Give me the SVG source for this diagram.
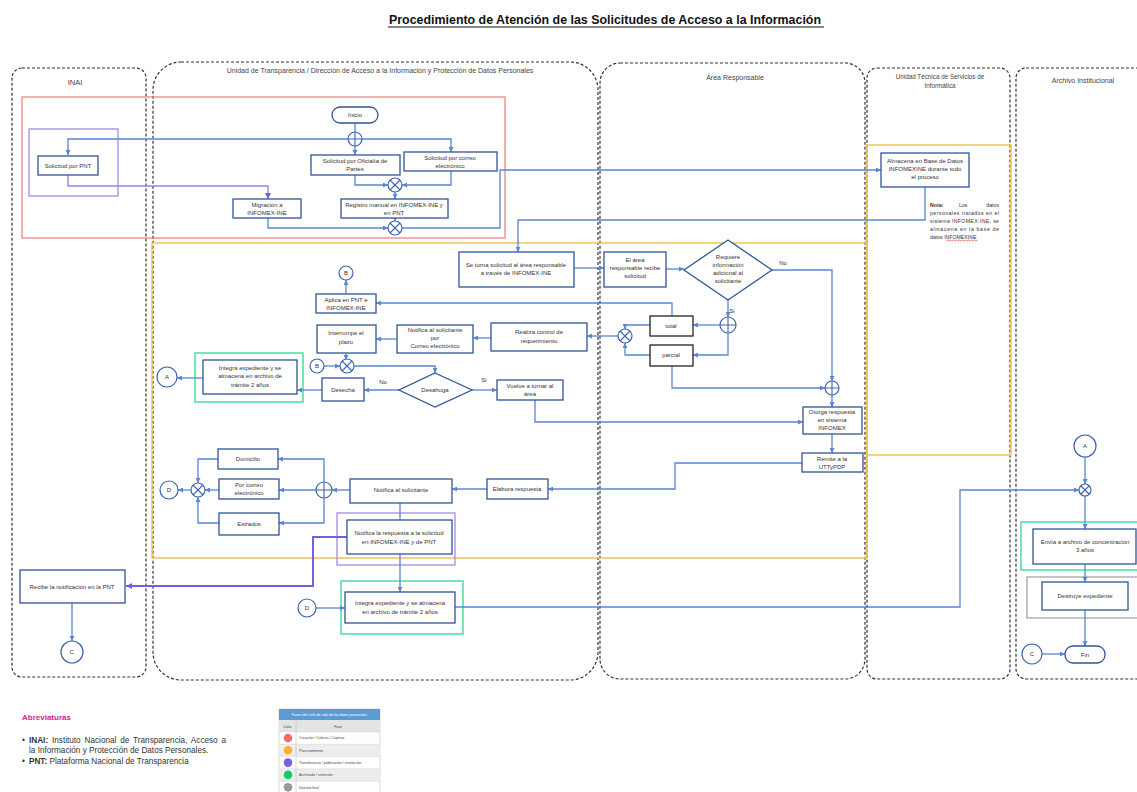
<svg xmlns="http://www.w3.org/2000/svg" width="1137" height="792" viewBox="0 0 1137 792">
<style>
.lane{fill:none;stroke:#333;stroke-width:1.2;stroke-dasharray:3 2}
.box{fill:#fff;stroke:#2F5597;stroke-width:1.3}
.bk{fill:#fff;stroke:#222;stroke-width:1.3}
.t{font-family:"Liberation Sans",Arial,sans-serif;font-size:6px;fill:#333;text-anchor:middle}
.lt{font-family:"Liberation Sans",Arial,sans-serif;font-size:7px;fill:#444;text-anchor:middle}
.c{fill:none;stroke:#5A86D1;stroke-width:1.3}
.cp{fill:none;stroke:#7B5CE0;stroke-width:2}
.gw{fill:#fff;stroke:#3D64B0;stroke-width:1.2}
.gl{stroke:#3D64B0;stroke-width:1.1}
.red{fill:none;stroke:#F07A7A;stroke-width:1.2}
.pur{fill:none;stroke:#A08CE8;stroke-width:1.3}
.grn{fill:none;stroke:#3EDC97;stroke-width:1.4}
.gry{fill:none;stroke:#A6A6A6;stroke-width:1.3}
.yel{fill:none;stroke:#EFC35A;stroke-width:1.5}
.lg{font-family:"Liberation Sans",Arial,sans-serif;font-size:8.2px;fill:#333}
.tb{font-family:"Liberation Sans",Arial,sans-serif;font-size:3.6px;fill:#444}
</style>
<defs>
<marker id="ar" viewBox="0 0 6 6" refX="6" refY="3" markerWidth="5" markerHeight="5" markerUnits="userSpaceOnUse" orient="auto"><path d="M0,0 L6,3 L0,6 z" fill="#5A86D1"/></marker>
<marker id="ap" viewBox="0 0 6 6" refX="6" refY="3" markerWidth="6" markerHeight="6" markerUnits="userSpaceOnUse" orient="auto"><path d="M0,0 L6,3 L0,6 z" fill="#7B5CE0"/></marker>
</defs>
<rect width="1137" height="792" fill="#fff"/>

<!-- Title -->
<text x="389" y="24" font-family="Liberation Sans, Arial, sans-serif" font-size="12.5" font-weight="bold" fill="#111" textLength="432" lengthAdjust="spacingAndGlyphs">Procedimiento de Atención de las Solicitudes de Acceso a la Información</text>
<line x1="388" y1="27" x2="824" y2="27" stroke="#111" stroke-width="1"/>

<!-- Lanes -->
<g id="lanes">
<rect class="lane" x="12" y="68" width="134" height="609" rx="10"/>
<rect class="lane" x="153" y="62" width="445" height="618" rx="28"/>
<rect class="lane" x="600" y="63" width="265" height="616" rx="20"/>
<rect class="lane" x="867" y="68" width="143" height="611" rx="10"/>
<rect class="lane" x="1016" y="68" width="150" height="611" rx="10"/>
<text class="lt" x="75" y="85" style="font-size:7.5px">INAI</text>
<text class="lt" x="380" y="73">Unidad de Transparencia / Dirección de Acceso a la Información y Protección de Datos Personales</text>
<text class="lt" x="735" y="80">Área Responsable</text>
<text class="lt" x="940" y="79" style="font-size:6.3px">Unidad Técnica de Servicios de</text>
<text class="lt" x="940" y="88" style="font-size:6.3px">Informática</text>
<text class="lt" x="1083" y="83">Archivo Institucional</text>
</g>

<!-- Phase containers -->
<g id="phases">
<rect class="red" x="22" y="97" width="483" height="141"/>
<rect class="yel" x="152" y="243" width="715" height="315"/>
<rect class="yel" x="867" y="145" width="144" height="310"/>
<rect class="pur" x="29" y="129" width="89" height="67"/>
<rect class="pur" x="337" y="513" width="118" height="52"/>
<rect class="grn" x="195" y="353" width="108" height="49"/>
<rect class="grn" x="341" y="581" width="122" height="53"/>
<rect class="grn" x="1021" y="522" width="130" height="48"/>
<rect class="gry" x="1027" y="577" width="120" height="41"/>
</g>

<!-- Connectors -->
<g id="connectors">
<path class="c" d="M355,123 V132"/>
<path class="c" d="M348,139 H68 V155" marker-end="url(#ar)"/>
<path class="c" d="M355,146 V155" marker-end="url(#ar)"/>
<path class="c" d="M362,139 H451 V152" marker-end="url(#ar)"/>
<path class="c" d="M355,175 V185 H388" marker-end="url(#ar)"/>
<path class="c" d="M451,171 V185 H402" marker-end="url(#ar)"/>
<path class="c" d="M395,192 V199" marker-end="url(#ar)"/>
<path class="cp" style="stroke-width:1.4;stroke:#9A82E6" d="M68,175 V186 H268 V199" marker-end="url(#ap)"/>
<path class="c" d="M268,218 V228 H388" marker-end="url(#ar)"/>
<path class="c" d="M395,218 V221" marker-end="url(#ar)"/>
<path class="c" d="M402,228 H500 V170 H881" marker-end="url(#ar)"/>
<path class="c" d="M925,187 V220 H518 V252" marker-end="url(#ar)"/>
<path class="c" d="M574,268 H604" marker-end="url(#ar)"/>
<path class="c" d="M666,269 H684" marker-end="url(#ar)"/>
<path class="c" d="M772,270 H832 V381" marker-end="url(#ar)"/>
<path class="c" d="M728,300 V317" marker-end="url(#ar)"/>
<path class="c" d="M720,325 H693" marker-end="url(#ar)"/>
<path class="c" d="M728,333 V355 H693" marker-end="url(#ar)"/>
<path class="c" d="M650,325 H625 V329" marker-end="url(#ar)"/>
<path class="c" d="M650,355 H625 V343" marker-end="url(#ar)"/>
<path class="c" d="M672,316 V303 H376" marker-end="url(#ar)"/>
<path class="c" d="M346,294 V280" marker-end="url(#ar)"/>
<path class="c" d="M618,336 H587" marker-end="url(#ar)"/>
<path class="c" d="M491,338 H473" marker-end="url(#ar)"/>
<path class="c" d="M397,339 H376" marker-end="url(#ar)"/>
<path class="c" d="M346,353 V360" marker-end="url(#ar)"/>
<path class="c" d="M324,366 H340" marker-end="url(#ar)"/>
<path class="c" d="M354,366 H435 V373" marker-end="url(#ar)"/>
<path class="c" d="M399,390 H364" marker-end="url(#ar)"/>
<path class="c" d="M322,390 H297" marker-end="url(#ar)"/>
<path class="c" d="M203,378 H177" marker-end="url(#ar)"/>
<path class="c" d="M472,390 H497" marker-end="url(#ar)"/>
<path class="c" d="M535,400 V422 H803" marker-end="url(#ar)"/>
<path class="c" d="M672,366 V388 H825" marker-end="url(#ar)"/>
<path class="c" d="M832,395 V407" marker-end="url(#ar)"/>
<path class="c" d="M832,434 V453" marker-end="url(#ar)"/>
<path class="c" d="M802,463 H675 V489 H548" marker-end="url(#ar)"/>
<path class="c" d="M487,489 H452" marker-end="url(#ar)"/>
<path class="c" d="M350,490 H332" marker-end="url(#ar)"/>
<path class="c" d="M324,482 V459 H278" marker-end="url(#ar)"/>
<path class="c" d="M316,490 H279" marker-end="url(#ar)"/>
<path class="c" d="M324,498 V523 H279" marker-end="url(#ar)"/>
<path class="c" d="M218,459 H198 V483" marker-end="url(#ar)"/>
<path class="c" d="M219,490 H205" marker-end="url(#ar)"/>
<path class="c" d="M219,523 H198 V497" marker-end="url(#ar)"/>
<path class="c" d="M191,490 H178" marker-end="url(#ar)"/>
<path class="c" d="M400,503 V520"/>
<path class="c" d="M400,554 V592" marker-end="url(#ar)"/>
<path class="cp" d="M347,537 H313 V586 H126" marker-end="url(#ap)"/>
<path class="c" d="M72,603 V641" marker-end="url(#ar)"/>
<path class="c" d="M316,608 H345" marker-end="url(#ar)"/>
<path class="c" d="M455,607 H960 V490 H1079" marker-end="url(#ar)"/>
<path class="c" d="M1085,457 V484" marker-end="url(#ar)"/>
<path class="c" d="M1085,496 V529" marker-end="url(#ar)"/>
<path class="c" d="M1085,564 V582" marker-end="url(#ar)"/>
<path class="c" d="M1085,610 V646" marker-end="url(#ar)"/>
<path class="c" d="M1042,654 H1065" marker-end="url(#ar)"/>
<text class="t" x="783" y="265">No</text>
<text class="t" x="732" y="313">Si</text>
<text class="t" x="383" y="384">No</text>
<text class="t" x="484" y="382">Si</text>
</g>

<!-- Gateways -->
<g id="gw-p1"><circle class="gw" cx="355" cy="139" r="7"/><path class="gl" d="M348,139 H362 M355,132 V146"/></g>
<g id="gw-x1"><circle class="gw" cx="395" cy="185" r="7"/><path class="gl" d="M390,180 L400,190 M400,180 L390,190"/></g>
<g id="gw-x2"><circle class="gw" cx="395" cy="228" r="7"/><path class="gl" d="M390,223 L400,233 M400,223 L390,233"/></g>
<g id="gw-p2"><circle class="gw" cx="728" cy="325" r="8"/><path class="gl" d="M720,325 H736 M728,317 V333"/></g>
<g id="gw-x3"><circle class="gw" cx="625" cy="336" r="7"/><path class="gl" d="M620,331 L630,341 M630,331 L620,341"/></g>
<g id="gw-x4"><circle class="gw" cx="347" cy="366" r="7"/><path class="gl" d="M342,361 L352,371 M352,361 L342,371"/></g>
<g id="gw-p3"><circle class="gw" cx="832" cy="388" r="7"/><path class="gl" d="M825,388 H839 M832,381 V395"/></g>
<g id="gw-p4"><circle class="gw" cx="324" cy="490" r="8"/><path class="gl" d="M316,490 H332 M324,482 V498"/></g>
<g id="gw-x5"><circle class="gw" cx="198" cy="490" r="7"/><path class="gl" d="M193,485 L203,495 M203,485 L193,495"/></g>
<g id="gw-x6"><circle class="gw" cx="1085" cy="490" r="6"/><path class="gl" d="M1081,486 L1089,494 M1089,486 L1081,494"/></g>

<!-- Off-page connectors -->
<g id="ref-b1"><circle class="gw" cx="346" cy="273" r="7"/><text class="t" x="346" y="275">B</text></g>
<g id="ref-b2"><circle class="gw" cx="317" cy="366" r="7"/><text class="t" x="317" y="368">B</text></g>
<g id="ref-a1"><circle class="gw" cx="167" cy="377" r="10"/><text class="t" x="167" y="379">A</text></g>
<g id="ref-d1"><circle class="gw" cx="169" cy="490" r="9"/><text class="t" x="169" y="492">D</text></g>
<g id="ref-d2"><circle class="gw" cx="307" cy="608" r="9"/><text class="t" x="307" y="610">D</text></g>
<g id="ref-c1"><circle class="gw" cx="72" cy="652" r="11"/><text class="t" x="72" y="654">C</text></g>
<g id="ref-a2"><circle class="gw" cx="1085" cy="446" r="11"/><text class="t" x="1085" y="448">A</text></g>
<g id="ref-c2"><circle class="gw" cx="1032" cy="654" r="10"/><text class="t" x="1032" y="656">C</text></g>

<!-- Nodes -->
<g id="inicio"><rect class="box" x="332" y="107" width="46" height="16" rx="8"/><text class="t" x="355" y="117">Inicio</text></g>
<g id="sol-pnt"><rect class="box" x="38" y="156" width="60" height="19"/><text class="t" x="68" y="167.5">Solicitud por PNT</text></g>
<g id="sol-oficialia"><rect class="box" x="311" y="155" width="89" height="20"/><text class="t" x="355" y="163">Solicitud por Oficialía de</text><text class="t" x="355" y="171">Partes</text></g>
<g id="sol-correo"><rect class="box" x="404" y="152" width="93" height="19"/><text class="t" x="450" y="160">Solicitud por correo</text><text class="t" x="450" y="168">electrónico</text></g>
<g id="registro"><rect class="box" x="341" y="199" width="107" height="19"/><text class="t" x="394" y="207">Registro manual en INFOMEX-INE y</text><text class="t" x="394" y="215">en PNT</text></g>
<g id="migracion"><rect class="box" x="233" y="199" width="68" height="19"/><text class="t" x="267" y="207">Migración a</text><text class="t" x="267" y="215">INFOMEX-INE</text></g>
<g id="almacena"><rect class="box" x="881" y="153" width="88" height="34"/><text class="t" x="925" y="163">Almacena en Base de Datos</text><text class="t" x="925" y="171">INFOMEXINE durante todo</text><text class="t" x="925" y="179">el proceso</text></g>
<g id="nota" style="font-family:'Liberation Sans',Arial,sans-serif;font-size:5.2px;fill:#333">
<text x="930" y="207" font-weight="bold">Nota:</text>
<text x="959" y="207">Los</text>
<text x="999" y="207" text-anchor="end">datos</text>
<text x="930" y="215" textLength="69" lengthAdjust="spacing">personales tratados en el</text>
<text x="930" y="223" textLength="69" lengthAdjust="spacing">sistema INFOMEX-INE, se</text>
<text x="930" y="231" textLength="69" lengthAdjust="spacing">almacena en la base de</text>
<text x="930" y="239">datos INFOMEXINE</text>
<path d="M946,241 l1.5,-1 l1.5,1 l1.5,-1 l1.5,1 l1.5,-1 l1.5,1 l1.5,-1 l1.5,1 l1.5,-1 l1.5,1 l1.5,-1 l1.5,1 l1.5,-1 l1.5,1 l1.5,-1 l1.5,1 l1.5,-1 l1.5,1 l1.5,-1 l1.5,1 l1.5,-1" fill="none" stroke="#E03030" stroke-width="0.6"/>
</g>
<g id="se-turna"><rect class="box" x="459" y="252" width="115" height="35"/><text class="t" x="516" y="267">Se turna solicitud al área responsable</text><text class="t" x="516" y="275">a través de INFOMEX-INE</text></g>
<g id="el-area"><rect class="box" x="604" y="252" width="62" height="35"/><text class="t" x="635" y="262">El área</text><text class="t" x="635" y="270">responsable recibe</text><text class="t" x="635" y="278">solicitud</text></g>
<g id="requiere"><polygon class="box" points="728,240 772,270 728,300 684,270"/><text class="t" x="728" y="259">Requiere</text><text class="t" x="728" y="267">información</text><text class="t" x="728" y="275">adicional al</text><text class="t" x="728" y="283">solicitante</text></g>
<g id="total"><rect class="bk" x="650" y="316" width="43" height="20"/><text class="t" x="671" y="328">total</text></g>
<g id="parcial"><rect class="bk" x="650" y="345" width="43" height="21"/><text class="t" x="671" y="357">parcial</text></g>
<g id="aplica"><rect class="box" x="316" y="294" width="60" height="19"/><text class="t" x="346" y="302">Aplica en PNT e</text><text class="t" x="346" y="310">INFOMEX-INE</text></g>
<g id="realiza"><rect class="box" x="491" y="323" width="96" height="28"/><text class="t" x="539" y="334">Realiza control de</text><text class="t" x="539" y="343">requerimiento</text></g>
<g id="notifica-correo"><rect class="box" x="397" y="325" width="76" height="28"/><text class="t" x="435" y="331.5">Notifica al solicitante</text><text class="t" x="435" y="339.5">por</text><text class="t" x="435" y="348">Correo electrónico</text></g>
<g id="interrumpe"><rect class="box" x="317" y="325" width="59" height="28"/><text class="t" x="346" y="335">Interrumpe el</text><text class="t" x="346" y="344">plazo</text></g>
<g id="desahoga"><polygon class="box" points="435,373 472,390 435,407 399,390"/><text class="t" x="435" y="392">Desahoga</text></g>
<g id="desecha"><rect class="box" x="322" y="378" width="42" height="23"/><text class="t" x="343" y="392">Desecha</text></g>
<g id="integra1"><rect class="box" x="203" y="360" width="94" height="34"/><text class="t" x="250" y="370">Integra expediente y se</text><text class="t" x="250" y="378">almacena en archivo de</text><text class="t" x="250" y="387">trámite 2 años</text></g>
<g id="vuelve"><rect class="box" x="497" y="380" width="66" height="20"/><text class="t" x="530" y="388">Vuelve a turnar al</text><text class="t" x="530" y="396">área</text></g>
<g id="otorga"><rect class="box" x="803" y="407" width="59" height="27"/><text class="t" x="832" y="414">Otorga respuesta</text><text class="t" x="832" y="421.5">en sistema</text><text class="t" x="832" y="429.5">INFOMEX</text></g>
<g id="remite"><rect class="box" x="802" y="453" width="61" height="19"/><text class="t" x="832" y="461">Remite a la</text><text class="t" x="832" y="469">UTTyPDP</text></g>
<g id="elabora"><rect class="box" x="487" y="479" width="61" height="20"/><text class="t" x="517" y="491">Elabora respuesta</text></g>
<g id="notifica-sol"><rect class="box" x="350" y="479" width="102" height="24"/><text class="t" x="401" y="492">Notifica al solicitante</text></g>
<g id="domicilio"><rect class="box" x="218" y="449" width="60" height="20"/><text class="t" x="248" y="461">Domicilio</text></g>
<g id="por-correo"><rect class="box" x="219" y="479" width="60" height="20"/><text class="t" x="249" y="487">Por correo</text><text class="t" x="249" y="495">electrónico</text></g>
<g id="estrados"><rect class="box" x="219" y="513" width="60" height="22"/><text class="t" x="249" y="526">Estrados</text></g>
<g id="notifica-resp"><rect class="box" x="347" y="520" width="105" height="34"/><text class="t" x="399" y="535">Notifica la respuesta a la solicitud</text><text class="t" x="399" y="543.5">en INFOMEX-INE y de PNT</text></g>
<g id="integra2"><rect class="box" x="345" y="592" width="110" height="31"/><text class="t" x="400" y="605">Integra expediente y se almacena</text><text class="t" x="400" y="613.5">en archivo de trámite 2 años</text></g>
<g id="recibe"><rect class="box" x="20" y="570" width="105" height="33"/><text class="t" x="72" y="588.5">Recibe la notificación en la PNT</text></g>
<g id="envia"><rect class="box" x="1033" y="529" width="103" height="35"/><text class="t" x="1085" y="544">Envía a archivo de concentración</text><text class="t" x="1085" y="552">3 años</text></g>
<g id="destruye"><rect class="box" x="1042" y="582" width="86" height="28"/><text class="t" x="1085" y="598">Destruye expediente</text></g>
<g id="fin"><rect class="box" x="1065" y="646" width="40" height="17" rx="8"/><text class="t" x="1085" y="657">Fin</text></g>

<!-- Legend -->
<g id="abreviaturas">
<text x="22" y="720" font-family="Liberation Sans, Arial, sans-serif" font-size="8" font-weight="bold" fill="#E0218A">Abreviaturas</text>
<text class="lg" x="22" y="743">•</text>
<text class="lg" x="29" y="743" word-spacing="1.6"><tspan font-weight="bold">INAI:</tspan> Instituto Nacional de Transparencia, Acceso a</text>
<text class="lg" x="29" y="753">la Información y Protección de Datos Personales.</text>
<text class="lg" x="22" y="764">•</text>
<text class="lg" x="29" y="764"><tspan font-weight="bold">PNT:</tspan> Plataforma Nacional de Transparencia</text>
</g>
<g id="tabla-fases">
<rect x="279" y="709" width="101" height="90" fill="#fff" stroke="#BFBFBF" stroke-width="0.6"/>
<rect x="279" y="709" width="101" height="11" fill="#5B9BD5"/>
<text class="tb" x="329.5" y="716" text-anchor="middle" style="fill:#fff">Fases del ciclo de vida de los datos personales</text>
<rect x="279" y="720" width="101" height="12" fill="#E4E4E4"/>
<rect x="279" y="744.3" width="101" height="12.3" fill="#EDEDED"/>
<rect x="279" y="768.9" width="101" height="12.3" fill="#EDEDED"/>
<line x1="296" y1="720" x2="296" y2="792" stroke="#BFBFBF" stroke-width="0.6"/>
<path d="M279,732 H380 M279,744.3 H380 M279,756.6 H380 M279,768.9 H380 M279,781.2 H380" stroke="#D0D0D0" stroke-width="0.5"/>
<text class="tb" x="287.5" y="727.5" text-anchor="middle">Color</text>
<text class="tb" x="338" y="727.5" text-anchor="middle">Fase</text>
<circle cx="288" cy="738" r="4.3" fill="#F86A6A"/>
<circle cx="288" cy="750.3" r="4.3" fill="#F9B233"/>
<circle cx="288" cy="762.6" r="4.3" fill="#7A5CE0"/>
<circle cx="288" cy="774.9" r="4.3" fill="#13CD6E"/>
<circle cx="288" cy="787.2" r="4.3" fill="#999"/>
<text class="tb" x="299" y="739.3">Creación / Colecta / Captura</text>
<text class="tb" x="299" y="751.6">Procesamiento</text>
<text class="tb" x="299" y="763.9">Transferencia / publicación / revelación</text>
<text class="tb" x="299" y="776.2">Archivado / retención</text>
<text class="tb" x="299" y="788.5">Destino final</text>
</g>
</svg>
